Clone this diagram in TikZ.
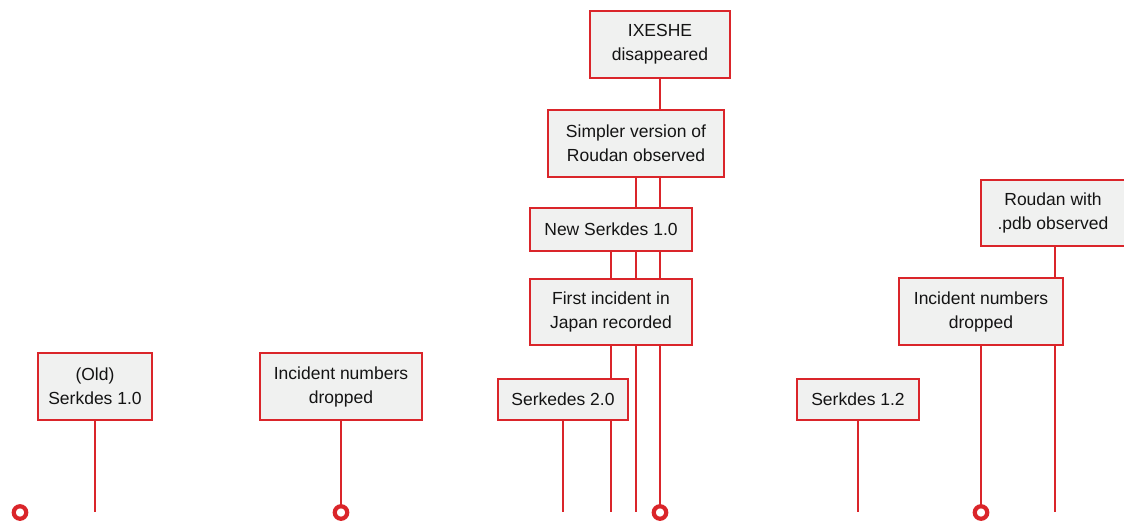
\documentclass[tikz,border=0pt]{standalone}
\usepackage{fontspec}
\setmainfont{Liberation Sans}
\usetikzlibrary{backgrounds}
\definecolor{lred}{RGB}{218,37,42}
\definecolor{lfill}{RGB}{240,241,240}
\definecolor{ltext}{RGB}{20,20,20}
\begin{document}
\begin{tikzpicture}[x=1pt,y=-1pt,
  evbox/.style={draw=lred,line width=2.5pt,fill=lfill,align=center,inner sep=0pt,
    text=ltext,font=\fontsize{17.5}{24}\selectfont},
  conn/.style={draw=lred,line width=2.5pt},
  endring/.style={circle,draw=lred,line width=4.2pt,fill=white,minimum size=12.5pt,inner sep=0pt}]
\useasboundingbox (0,0) rectangle (1124,523);
% boxes
\node[evbox,minimum width=140,minimum height=67] (ixeshe) at (660,44.5) {IXESHE\\disappeared};
\node[evbox,minimum width=176,minimum height=67] (simpler) at (636,143.5) {Simpler version of\\Roudan observed};
\node[evbox,minimum width=162,minimum height=43] (newserk) at (611,229.5) {New Serkdes 1.0};
\node[evbox,minimum width=162,minimum height=66] (japan) at (611,312) {First incident in\\Japan recorded};
\node[evbox,minimum width=130,minimum height=41] (serk2) at (563,399.5) {Serkedes 2.0};
\node[evbox,minimum width=114,minimum height=67] (old) at (95,386.5) {(Old)\\Serkdes 1.0};
\node[evbox,minimum width=162,minimum height=67] (dropl) at (341,386.5) {Incident numbers\\dropped};
\node[evbox,minimum width=122,minimum height=41] (serk12) at (858,399.5) {Serkdes 1.2};
\node[evbox,minimum width=164,minimum height=67] (dropr) at (981,311.5) {Incident numbers\\dropped};
\node[evbox,minimum width=144,minimum height=66] (roudan) at (1053,213) {Roudan with\\.pdb observed};
% bottom ends
\node[endring] (r1) at (20,512.5) {};
\node[endring] (r2) at (341,512.5) {};
\node[endring] (r3) at (660,512.5) {};
\node[endring] (r4) at (981,512.5) {};
\coordinate (e1) at (95,512);
\coordinate (e2) at (563,512);
\coordinate (e3) at (611,512);
\coordinate (e4) at (636,512);
\coordinate (e5) at (858,512);
\coordinate (e6) at (1055,512);
\begin{scope}[on background layer]
\draw[conn] (ixeshe.south) -- (r3.center);
\draw[conn] (simpler.south) -- (e4);
\draw[conn] (newserk.south) -- (e3);
\draw[conn] (serk2.south) -- (e2);
\draw[conn] (old.south) -- (e1);
\draw[conn] (dropl.south) -- (r2.center);
\draw[conn] (serk12.south) -- (e5);
\draw[conn] (dropr.south) -- (r4.center);
\draw[conn] (e6 |- roudan.south) -- (e6);
\end{scope}
\end{tikzpicture}
\end{document}
